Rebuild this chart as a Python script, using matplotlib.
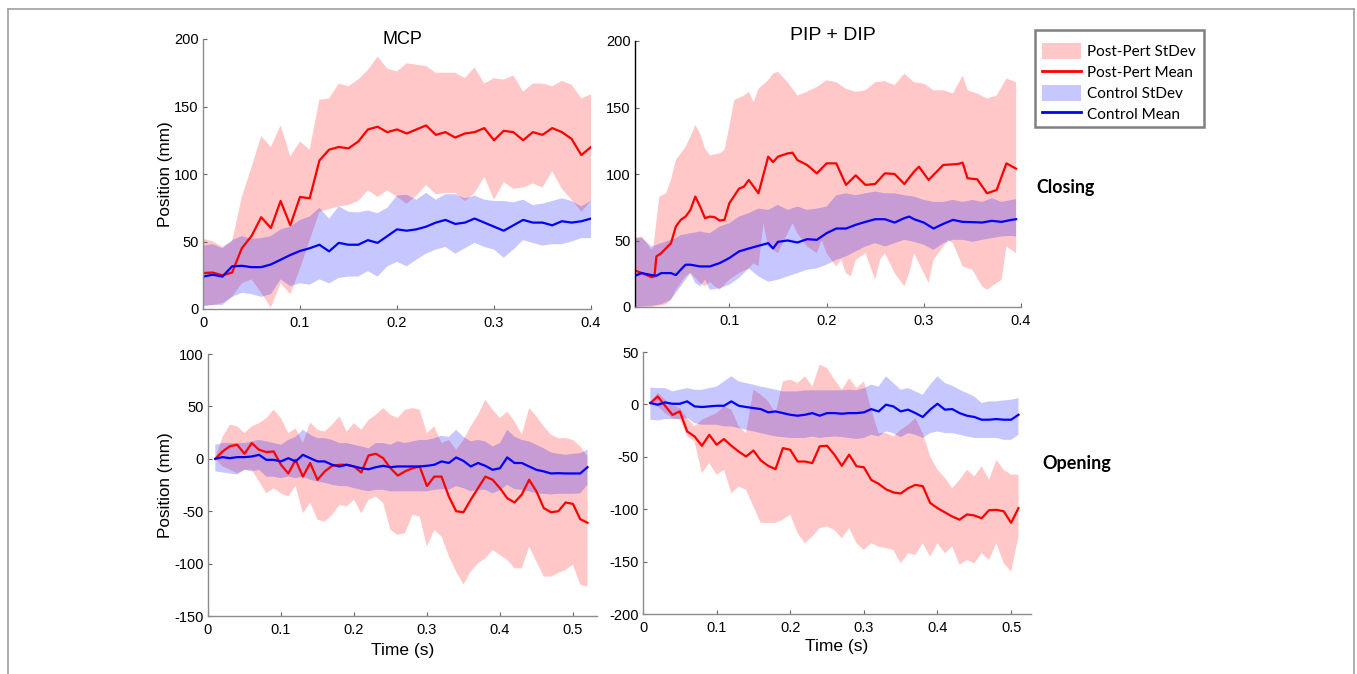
import numpy as np
import matplotlib
matplotlib.use("Agg")
import matplotlib.pyplot as plt
from matplotlib.patches import Patch, Rectangle
from matplotlib.lines import Line2D

plt.rcParams['font.family'] = ['Liberation Sans', 'DejaVu Sans']
plt.rcParams['axes.unicode_minus'] = False

# ---------------- Panel 1: MCP closing ----------------
t1 = np.round(np.arange(0, 0.401, 0.01), 2)
mcp_close_red_mean = [26.6, 27, 25, 27, 45, 54, 68, 60, 80, 62, 83, 82, 110, 118, 120, 119, 124, 133, 135, 131,
                      133, 130, 133, 136, 129, 131, 127, 130, 131, 134, 125, 132, 131, 125, 131, 129, 134, 131, 126, 114, 120]
mcp_close_red_up = [52, 50, 46, 50, 83, 105, 128, 120, 136, 113, 124, 118, 155, 156, 167, 165, 170, 177, 187, 178,
                    176, 182, 181, 180, 175, 175, 175, 171, 179, 167, 171, 170, 173, 161, 167, 167, 165, 169, 166, 156, 159]
mcp_close_red_lo = [2.5, 3, 4.4, 9, 19, 22, 12, 1, 19, 11, 30, 51, 72, 74, 76, 77, 80, 88, 83, 88,
                    83, 78, 84, 92, 85, 86, 86, 80, 86, 98, 81, 94, 89, 90, 93, 90, 102, 89, 81, 72, 80]
mcp_close_blue_mean = [24, 25.4, 24, 31.6, 32, 31, 31, 33, 36.5, 40, 43, 45, 47.6, 42.7, 49, 47.6, 47.6, 51, 49, 54,
                       59, 58, 59, 61, 64, 66, 63, 64, 67, 64, 61, 58, 62, 66, 64, 64, 62, 65, 64, 65, 67]
mcp_close_blue_up = [47, 48, 45, 51, 54, 52, 52.5, 54, 59, 61, 66, 68.5, 75, 67, 76, 72, 71.5, 73, 71, 75,
                     84, 84.6, 81, 86, 81, 85, 85, 82, 84, 81, 80, 80, 79, 81, 77, 78, 80, 82, 80, 76, 80]
mcp_close_blue_lo = [2, 3, 3, 9, 12, 11, 9, 11, 22, 17, 19, 18, 22, 19, 23, 24, 24, 28, 24, 31.6,
                     35, 31.6, 36.5, 41, 44, 46, 41, 45, 49, 46, 44, 38, 44, 51, 49, 47, 48, 48, 50, 52.5, 52.5]

# ---------------- Panel 2: PIP + DIP closing ----------------
pip_close_red_mean_t = [0.003, 0.01, 0.02, 0.023, 0.025, 0.03, 0.04, 0.045, 0.05, 0.055, 0.06, 0.065, 0.07, 0.075,
                        0.08, 0.085, 0.09, 0.095, 0.10, 0.11, 0.115, 0.12, 0.13, 0.14, 0.145, 0.15, 0.16, 0.165,
                        0.17, 0.18, 0.19, 0.20, 0.21, 0.22, 0.23, 0.24, 0.25, 0.26, 0.27, 0.28, 0.29, 0.295,
                        0.305, 0.32, 0.335, 0.34, 0.345, 0.355, 0.365, 0.375, 0.385, 0.395]
pip_close_red_mean = [27.5, 25.5, 22.5, 23, 38, 40.5, 48, 60.5, 65.5, 68, 73, 83, 75.5, 66.8,
                      68, 67.5, 65, 65.5, 78, 89, 90.5, 95.5, 85.5, 113, 109, 113, 115.5, 116,
                      110.5, 106.8, 100.5, 108, 108, 91.8, 99, 91.8, 92.5, 100.5, 100, 92.5, 101.8, 105.5,
                      95.5, 106.8, 107.5, 108.5, 96.8, 96, 85.5, 88, 108, 104]
pip_close_red_up_t = [0.003, 0.01, 0.02, 0.022, 0.028, 0.035, 0.04, 0.045, 0.055, 0.06, 0.065, 0.07, 0.075, 0.08,
                      0.09, 0.095, 0.10, 0.105, 0.115, 0.12, 0.125, 0.13, 0.14, 0.145, 0.15, 0.16, 0.17, 0.18,
                      0.19, 0.20, 0.21, 0.22, 0.23, 0.24, 0.25, 0.26, 0.27, 0.28, 0.29, 0.30, 0.31, 0.32, 0.33,
                      0.34, 0.345, 0.355, 0.365, 0.375, 0.385, 0.395]
pip_close_red_up = [52, 53, 43, 45.5, 83, 85.5, 95.5, 110.5, 120.5, 128, 136.8, 130.5, 119, 114,
                    115.5, 118, 135.5, 155.5, 159, 161.8, 154, 164, 170.5, 175.5, 176.8, 169, 159, 161.8,
                    165.5, 170.5, 169, 164, 161.8, 163, 169, 169.8, 166.8, 175.5, 169, 168, 163, 163, 160.5,
                    174, 163, 160.5, 156.8, 159, 171.8, 169]
pip_close_red_lo_t = [0.003, 0.02, 0.035, 0.04, 0.045, 0.055, 0.06, 0.065, 0.07, 0.075, 0.08, 0.085, 0.09, 0.10,
                      0.11, 0.12, 0.125, 0.13, 0.135, 0.14, 0.15, 0.16, 0.165, 0.17, 0.18, 0.19, 0.195, 0.20,
                      0.21, 0.215, 0.22, 0.225, 0.23, 0.24, 0.25, 0.255, 0.26, 0.27, 0.28, 0.285, 0.29, 0.30,
                      0.305, 0.31, 0.32, 0.325, 0.33, 0.34, 0.35, 0.36, 0.365, 0.37, 0.38, 0.385, 0.39, 0.395]
pip_close_red_lo = [0, 0, 2, 5.5, 13, 23, 25.5, 21.8, 18, 15.5, 19, 15.5, 13, 20.5,
                    25.5, 29, 33, 30.5, 63, 45.5, 40.5, 55.5, 63, 55.5, 45.5, 40.5, 50.5, 40.5,
                    30.5, 35.5, 25.5, 23, 35.5, 40.5, 20.5, 35.5, 40.5, 25.5, 15.5, 25.5, 40.5, 25.5,
                    18, 35.5, 45.5, 50.5, 48, 30.5, 28, 15.5, 13, 15.5, 20.5, 45.5, 43, 40.5]
pip_close_blue_mean_t = [0.003, 0.01, 0.02, 0.025, 0.03, 0.04, 0.045, 0.05, 0.055, 0.06, 0.07, 0.08, 0.09, 0.10,
                         0.11, 0.12, 0.13, 0.14, 0.145, 0.15, 0.16, 0.17, 0.18, 0.19, 0.20, 0.21, 0.22, 0.23,
                         0.24, 0.25, 0.26, 0.27, 0.28, 0.285, 0.29, 0.30, 0.31, 0.32, 0.33, 0.34, 0.35, 0.36,
                         0.37, 0.38, 0.39, 0.395]
pip_close_blue_mean = [23.5, 25.5, 24, 23.5, 25.5, 25.5, 24, 28, 31.8, 31.8, 30.5, 30.5, 33, 36.8,
                       41.8, 44, 46, 48, 44, 49, 50, 48.5, 51, 50.5, 55.5, 59, 59, 61.8,
                       64, 66, 66, 63.5, 66.8, 68, 66, 63.5, 59, 62.5, 65.5, 64, 63.8, 63.5,
                       64.8, 64, 65.5, 66]
pip_close_blue_t = [0.003, 0.01, 0.02, 0.03, 0.04, 0.045, 0.05, 0.06, 0.065, 0.07, 0.075, 0.08, 0.09, 0.10,
                    0.11, 0.12, 0.13, 0.14, 0.15, 0.16, 0.17, 0.18, 0.19, 0.20, 0.21, 0.22, 0.23, 0.24,
                    0.25, 0.26, 0.27, 0.28, 0.29, 0.30, 0.31, 0.32, 0.33, 0.34, 0.35, 0.36, 0.37, 0.38,
                    0.39, 0.395]
pip_close_blue_up = [52, 52, 45.5, 48, 50.5, 52, 54, 55.5, 56, 56.8, 56, 55.5, 60.5, 63,
                     68, 70.5, 74, 73, 76.8, 73, 75.5, 73, 74, 75.5, 84, 85.5, 84, 85.5,
                     86.8, 85.5, 85.5, 84, 83, 80.5, 79, 79, 80.5, 79, 80.5, 79, 81.8, 79,
                     80.5, 81]
pip_close_blue_lo = [0, 0.5, 1, 2, 5.5, 10.5, 15.5, 25.5, 18, 15.5, 20.5, 13, 14, 16.8,
                     21.8, 29, 23, 19, 20.5, 23, 25.5, 28, 29, 31.8, 35.5, 38, 41.8, 45.5,
                     48, 45.5, 48, 50.5, 49, 46.8, 43, 48, 50.5, 50.5, 49, 50.5, 51.8, 53,
                     53.5, 53]

# ---------------- Panel 3: MCP opening ----------------
t3 = np.round(np.arange(0.01, 0.521, 0.01), 2)
mcp_open_red_mean = [0, 7, 12, 13.4, 4.8, 15, 8.6, 6.4, 7, -5.7, -14, -1, -17, -4, -20, -12, -6.7, -5.7, -5.7, -7.3,
                     -13, 3.2, 4.8, 0.6, -8.9, -16, -12, -9, -7.3, -26, -17, -17, -36, -50, -51, -39, -28, -17, -20, -28,
                     -37.6, -41.7, -34, -20, -31, -47, -51, -50, -41.7, -43, -57.6, -61]
mcp_open_red_up = [0, 21, 32.5, 31, 24.5, 31, 34, 38.8, 46.8, 38.8, 24.5, 29, 15, 34.7, 27.7, 26, 32.5, 40.4, 26, 34,
                   27.7, 37, 42, 48.4, 42, 38.8, 46.8, 48.4, 46.8, 24.5, 31, 15, 18, 8.6, 18, 31, 42, 56.4, 46.8, 38.8,
                   45, 35.7, 23, 48.4, 40.4, 31, 23, 19.7, 19.7, 18, 11.8, 2.2]
mcp_open_red_lo = [0, -7.3, -10.5, -13.7, -10.5, -10.5, -21.7, -33, -28, -33, -36, -26, -52, -42, -58, -60, -53.5, -44, -45.5, -39,
                   -52, -39, -36, -42, -68, -72.6, -71, -53.5, -55, -83.8, -68, -74, -93, -107.6, -120, -107.6, -99.7, -95, -87, -91.7,
                   -96.5, -104.5, -104.5, -83.8, -98, -112.4, -112.4, -109, -106, -101, -120, -122]
mcp_open_blue_mean = [0, 1.6, 0.6, 1.6, 1.6, 2.2, 3.8, -1, -1, -2.5, 0.6, -2.5, 3.8, 0.6, -2.5, -2.5, -5.7, -7.3, -5.7, -7.3,
                      -9, -10, -8, -6.7, -8, -7.3, -7.3, -7.3, -7.3, -6.7, -5.7, -2.5, -4, 1.3, -2, -7.3, -4, -6.7, -10.5, -9,
                      1.3, -4, -4, -7.3, -10.5, -12, -14, -13.7, -14, -14, -14, -8]
mcp_open_blue_up = [13.4, 15, 15, 15, 15, 16.6, 18, 16.6, 15, 13.4, 18, 21, 27.7, 23, 19.7, 19.7, 18, 15, 15, 13.4,
                    11.8, 10, 15, 15, 13.4, 16.6, 15, 16.6, 18, 18, 19.7, 22, 21, 27.7, 21, 16.6, 18, 16.6, 11.8, 15,
                    27.7, 21, 18, 16.6, 13.4, 10, 6, 4.8, 3.8, 4.8, 5.4, 8.6]
mcp_open_blue_lo = [-12, -13, -14, -15, -10.5, -12, -10.5, -17, -17, -18.5, -17, -18.5, -17, -20, -21.7, -23, -24.8, -26, -26, -28,
                    -29.6, -31, -29.6, -29.6, -31, -31, -31, -31, -31, -31, -29.6, -29, -29.6, -26, -28, -31, -29.6, -29.6, -33, -30,
                    -24.8, -29, -29.6, -31, -33, -33.4, -34, -33.4, -33.4, -33.4, -33, -24.8]

# ---------------- Panel 4: PIP + DIP opening ----------------
t4 = np.round(np.arange(0.01, 0.511, 0.01), 2)
pip_open_red_mean = [1.3, 7.6, -1.3, -10, -6.7, -25.8, -30.6, -39.5, -29, -38.5, -33, -39.5, -45, -49.7, -44, -53.5, -58.6, -61.8, -41.7, -43.3,
                     -54.5, -54.5, -56, -40, -39.5, -48, -58.6, -48, -59, -60, -72, -75.8, -81, -84, -85, -80, -76.8, -78, -94, -99,
                     -103, -107, -110, -105, -106, -108.6, -101, -100.6, -102, -113, -99]
pip_open_red_up = [1.3, 11, 4.5, -1, -3.5, -13, -21, -14.6, -11.5, -8.3, -1.9, -5, -21, -27.4, 14, 9.2, 2.9, -8.3, 22, 23.6,
                   20.4, 26.8, 17, 37.9, 34.7, 23.6, 14, 25, 15.6, 22, -5, -27.4, -27.4, -30.6, -24.2, -19.4, -13, -27.4, -49.7, -62.4,
                   -70, -80, -72, -62.4, -68.8, -59, -72, -52.9, -62.4, -67, -67]
pip_open_red_lo = [0.6, -1.9, -8.3, -13, -14.6, -30.6, -35.4, -65.6, -56, -67.2, -62.4, -84.7, -78.3, -81.5, -97.5, -113, -113, -113, -110, -105,
                   -123, -132.5, -126, -118, -116.6, -119.7, -127.7, -118, -132.5, -138.9, -132.5, -135.7, -137, -138.9, -151.6, -142, -143.6, -132.5, -145, -132.5,
                   -142, -135.7, -153, -148.4, -151.6, -142, -148.4, -132.5, -151.6, -159.6, -126]
pip_open_blue_mean = [1.3, -0.3, 1.9, 0.6, 0.6, 2.9, -1.9, -2.5, -1.9, -1.3, -1.3, 2.9, -1.3, -2.5, -3.5, -4.5, -7.6, -6.7, -8.3, -9.9,
                      -10.8, -9.9, -8.3, -10.8, -8.3, -8.3, -8.9, -8.3, -8.3, -7.6, -4.5, -6.7, -0.3, -1.9, -6.7, -5, -8.3, -12, -5, 0.6,
                      -5, -4.5, -8.3, -10.8, -12, -14.6, -14.6, -14, -14.6, -14.6, -9.9]
pip_open_blue_up = [16, 15.6, 15.6, 12.4, 14, 15.6, 14, 14, 15.6, 17, 22, 26.8, 22, 20.4, 18.8, 17, 15.6, 14, 12.4, 12.4,
                    12.4, 13.4, 13.4, 13.4, 13.4, 13.4, 13.4, 14, 13.4, 15.6, 18.8, 17, 26.8, 20.4, 14, 15.6, 12.4, 9.2, 18.8, 26.8,
                    20.4, 17.8, 14, 10.8, 7.6, 1.3, 2.9, 2.9, 3.8, 4.5, 6]
pip_open_blue_lo = [-14.6, -15.3, -14, -14, -14, -13, -17.8, -19.4, -19.4, -19.4, -21, -21, -22.6, -24.2, -25.8, -27.4, -29, -30.6, -31.2, -32,
                    -32, -32, -30.6, -32, -31.2, -30.6, -31.2, -32, -33, -32, -29, -30.6, -25.8, -27.4, -31.2, -27.4, -29, -32, -27.4, -25.8,
                    -27.4, -27.4, -29, -30.6, -32, -32, -32, -32, -33.8, -33.8, -29]

legend_labels = ["Post-Pert StDev", "Post-Pert Mean", "Control StDev", "Control Mean"]

RED = "#ff0000"
BLUE = "#0000ff"
ALPHA = 0.22
LW = 1.6

fig = plt.figure(figsize=(13.57, 6.74), dpi=100)


def band(ax, tu, up, tl, lo, color):
    xs = np.concatenate([np.asarray(tu, float), np.asarray(tl, float)[::-1]])
    ys = np.concatenate([np.asarray(up, float), np.asarray(lo, float)[::-1]])
    ax.fill(xs, ys, facecolor=color, alpha=ALPHA, edgecolor='none', lw=0)


def style(ax, left_color="#8c8c8c"):
    ax.spines['top'].set_visible(False)
    ax.spines['right'].set_visible(False)
    ax.spines['left'].set_color(left_color)
    ax.spines['bottom'].set_color("#8c8c8c")
    ax.spines['left'].set_linewidth(1.0)
    ax.spines['bottom'].set_linewidth(1.0)
    ax.tick_params(direction='in', length=3, width=0.8, color="#666666", labelsize=10.5, pad=3)
    ax.tick_params(axis='x', pad=5)


W = 1357.0
H = 674.0


def axes_px(x0, y0, x1, y1):
    return fig.add_axes([x0 / W, 1 - y1 / H, (x1 - x0) / W, (y1 - y0) / H])


# Panel 1
ax1 = axes_px(203, 39, 591, 309)
band(ax1, t1, mcp_close_red_up, t1, mcp_close_red_lo, RED)
band(ax1, t1, mcp_close_blue_up, t1, mcp_close_blue_lo, BLUE)
ax1.plot(t1, mcp_close_red_mean, color=RED, lw=LW)
ax1.plot(t1, mcp_close_blue_mean, color=BLUE, lw=LW)
ax1.set_xlim(0, 0.4)
ax1.set_ylim(0, 200)
ax1.set_xticks([0, 0.1, 0.2, 0.3, 0.4])
ax1.set_xticklabels(['0', '0.1', '0.2', '0.3', '0.4'])
ax1.set_yticks([0, 50, 100, 150, 200])
ax1.set_ylabel("Position (mm)", fontsize=12.3, labelpad=1)
style(ax1)

# Panel 2
ax2 = axes_px(635, 41, 1021, 307)
band(ax2, pip_close_red_up_t, pip_close_red_up, pip_close_red_lo_t, pip_close_red_lo, RED)
band(ax2, pip_close_blue_t, pip_close_blue_up, pip_close_blue_t, pip_close_blue_lo, BLUE)
ax2.plot(pip_close_red_mean_t, pip_close_red_mean, color=RED, lw=LW)
ax2.plot(pip_close_blue_mean_t, pip_close_blue_mean, color=BLUE, lw=LW)
ax2.set_xlim(0.003, 0.4)
ax2.set_ylim(0, 200)
ax2.set_xticks([0.1, 0.2, 0.3, 0.4])
ax2.set_xticklabels(['0.1', '0.2', '0.3', '0.4'])
ax2.set_yticks([0, 50, 100, 150, 200])
style(ax2, left_color="#000000")

# Column titles
fig.text(402 / W, 1 - 39 / H, "MCP", fontsize=13, ha='center', va='center')
fig.text(833 / W, 1 - 36 / H, "PIP + DIP", fontsize=14, ha='center', va='center')

# Panel 3
ax3 = axes_px(208, 354, 597, 616)
band(ax3, t3, mcp_open_red_up, t3, mcp_open_red_lo, RED)
band(ax3, t3, mcp_open_blue_up, t3, mcp_open_blue_lo, BLUE)
ax3.plot(t3, mcp_open_red_mean, color=RED, lw=LW)
ax3.plot(t3, mcp_open_blue_mean, color=BLUE, lw=LW)
ax3.set_xlim(0, 0.533)
ax3.set_ylim(-150, 100)
ax3.set_xticks([0, 0.1, 0.2, 0.3, 0.4, 0.5])
ax3.set_xticklabels(['0', '0.1', '0.2', '0.3', '0.4', '0.5'])
ax3.set_yticks([-150, -100, -50, 0, 50, 100])
ax3.set_ylabel("Position (mm)", fontsize=12.3, labelpad=1)
ax3.set_xlabel("Time (s)", fontsize=12.5, labelpad=4)
style(ax3)

# Panel 4
ax4 = axes_px(643, 352, 1031, 614)
band(ax4, t4, pip_open_red_up, t4, pip_open_red_lo, RED)
band(ax4, t4, pip_open_blue_up, t4, pip_open_blue_lo, BLUE)
ax4.plot(t4, pip_open_red_mean, color=RED, lw=LW)
ax4.plot(t4, pip_open_blue_mean, color=BLUE, lw=LW)
ax4.set_xlim(0, 0.527)
ax4.set_ylim(-200, 50)
ax4.set_xticks([0, 0.1, 0.2, 0.3, 0.4, 0.5])
ax4.set_xticklabels(['0', '0.1', '0.2', '0.3', '0.4', '0.5'])
ax4.set_yticks([-200, -150, -100, -50, 0, 50])
ax4.set_xlabel("Time (s)", fontsize=12.5, labelpad=3)
style(ax4)

# Legend (entries without frame; frame drawn separately)
handles = [Patch(facecolor=RED, alpha=ALPHA, edgecolor='none'),
           Line2D([0], [0], color=RED, lw=2),
           Patch(facecolor=BLUE, alpha=ALPHA, edgecolor='none'),
           Line2D([0], [0], color=BLUE, lw=2)]
leg = fig.legend(handles, legend_labels, loc='upper left', bbox_to_anchor=(1030 / W, 1 - 31 / H),
                 bbox_transform=fig.transFigure, frameon=False,
                 prop={'family': 'Lato', 'size': 11},
                 handlelength=2.55, handleheight=1.25, handletextpad=0.35, labelspacing=0.3,
                 borderpad=0.8, borderaxespad=0)
fig.add_artist(Rectangle((1035 / W, 1 - 127 / H), 169 / W, 97 / H, transform=fig.transFigure,
                         fill=False, edgecolor="#808080", lw=1.8))

# Row labels
fig.text(1036 / W, 1 - 187 / H, "Closing", fontsize=12.8, fontweight='bold', family='Lato',
         ha='left', va='center')
fig.text(1042 / W, 1 - 463 / H, "Opening", fontsize=13, fontweight='bold', family='Lato',
         ha='left', va='center')

# Outer frame (open at the bottom)
frame_kw = dict(color="#a0a0a0", lw=1.2, transform=fig.transFigure)
fig.add_artist(Line2D([8 / W, 8 / W], [0, 1 - 9 / H], **frame_kw))
fig.add_artist(Line2D([8 / W, 1354 / W], [1 - 9 / H, 1 - 9 / H], **frame_kw))
fig.add_artist(Line2D([1354 / W, 1354 / W], [0, 1 - 9 / H], **frame_kw))

fig.savefig("out.png", dpi=100)
